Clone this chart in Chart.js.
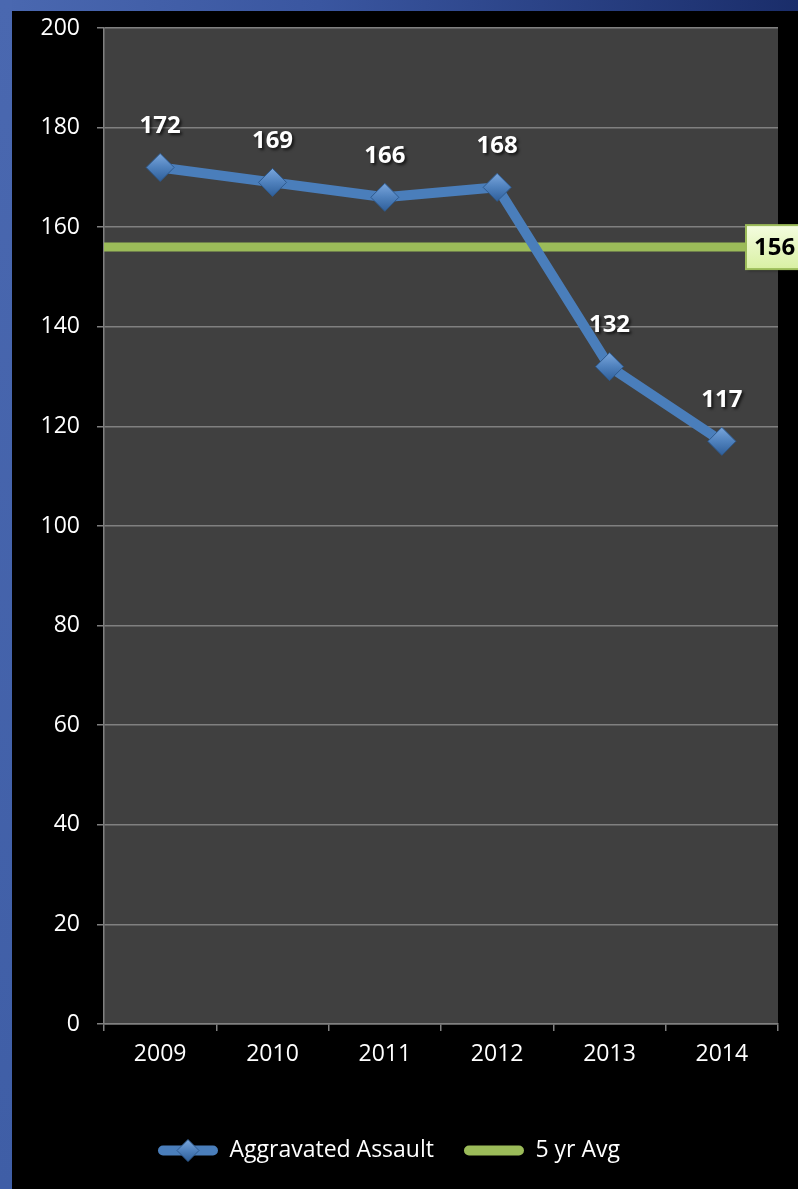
<!DOCTYPE html>
<html lang="en">
<head>
    <meta charset="UTF-8">
    <title>Aggravated Assault</title>
    <script src="https://cdn.jsdelivr.net/npm/chart.js"></script>
    <style>
        html, body { margin: 0; padding: 0; background: #000; }
        #wrap { position: relative; width: 798px; height: 1189px; overflow: hidden; background: #000; }
        #topbar { position: absolute; left: 0; top: 0; width: 798px; height: 11px;
                  background: linear-gradient(to right, #4a68b0, #3a56a0 40%, #1a2d6a); }
        #leftbar { position: absolute; left: 0; top: 0; width: 12px; height: 1189px;
                   background: linear-gradient(to bottom, #4a68b0, #3f5ea6); }
        #spentChart { position: absolute; left: 0; top: 0; }
    </style>
</head>
<body>
    <div id="wrap">
        <div id="topbar"></div>
        <div id="leftbar"></div>
        <canvas id="spentChart" width="798" height="1189"></canvas>
    </div>

    <script>
        const years = ['2009', '2010', '2011', '2012', '2013', '2014'];
        const assaults = [172, 169, 166, 168, 132, 117];
        const avgValue = 156;
        const yTicks = [0, 20, 40, 60, 80, 100, 120, 140, 160, 180, 200];

        const blue = '#4a7ebb';
        const green = '#9bbb59';
        const font = "'Open Sans', sans-serif";

        // grey plot background
        const plotBg = {
            id: 'plotBg',
            beforeDraw(chart) {
                const a = chart.chartArea;
                const ctx = chart.ctx;
                ctx.save();
                ctx.fillStyle = '#404040';
                ctx.fillRect(a.left, a.top, a.right - a.left, a.bottom - a.top);
                ctx.restore();
            }
        };

        function drawDiamond(ctx, cx, cy, r) {
            ctx.save();
            const g = ctx.createLinearGradient(cx, cy - r, cx, cy + r);
            g.addColorStop(0, '#7aa6dc');
            g.addColorStop(0.5, '#4f81bd');
            g.addColorStop(1, '#2f5f9a');
            ctx.beginPath();
            ctx.moveTo(cx, cy - r);
            ctx.lineTo(cx + r, cy);
            ctx.lineTo(cx, cy + r);
            ctx.lineTo(cx - r, cy);
            ctx.closePath();
            ctx.fillStyle = g;
            ctx.fill();
            ctx.strokeStyle = '#2e5a8e';
            ctx.lineWidth = 1;
            ctx.stroke();
            ctx.restore();
        }

        // value labels above points + the avg label box
        const labels = {
            id: 'labels',
            afterDatasetsDraw(chart) {
                const ctx = chart.ctx;
                const meta = chart.getDatasetMeta(0);
                // shaded diamonds on top of the plain markers
                meta.data.forEach(pt => drawDiamond(ctx, pt.x, pt.y, 14));

                ctx.save();
                ctx.font = 'bold 24px ' + font;
                ctx.textAlign = 'center';
                ctx.textBaseline = 'middle';
                ctx.shadowColor = 'rgba(0,0,0,0.7)';
                ctx.shadowOffsetX = 2;
                ctx.shadowOffsetY = 2;
                ctx.shadowBlur = 3;
                ctx.fillStyle = '#fff';
                meta.data.forEach((pt, i) => {
                    ctx.fillText(String(assaults[i]), pt.x, pt.y - 41);
                });
                ctx.restore();

                const y = chart.scales.y.getPixelForValue(avgValue);
                const bx = chart.chartArea.right - 32;
                ctx.save();
                const g = ctx.createLinearGradient(0, y - 22, 0, y + 22);
                g.addColorStop(0, '#f4fde0');
                g.addColorStop(1, '#d9f0a3');
                ctx.shadowColor = 'rgba(0,0,0,0.5)';
                ctx.shadowOffsetX = 2;
                ctx.shadowOffsetY = 2;
                ctx.shadowBlur = 3;
                ctx.fillStyle = g;
                ctx.fillRect(bx, y - 22, 70, 44);
                ctx.shadowColor = 'transparent';
                ctx.strokeStyle = green;
                ctx.lineWidth = 2;
                ctx.strokeRect(bx, y - 22, 70, 44);
                ctx.fillStyle = '#000';
                ctx.font = 'bold 24px ' + font;
                ctx.textAlign = 'left';
                ctx.textBaseline = 'middle';
                ctx.fillText(String(avgValue), bx + 8, y + 1);
                ctx.restore();
            },
            afterDraw(chart) {
                // diamond on the first legend swatch
                const legend = chart.legend;
                if (!legend || !legend.legendHitBoxes.length) return;
                const hb = legend.legendHitBoxes[0];
                drawDiamond(chart.ctx, hb.left + 30, hb.top + hb.height / 2, 11);
            }
        };

        const ctx = document.getElementById('spentChart').getContext('2d');
        const chart = new Chart(ctx, {
            type: 'line',
            data: {
                labels: years,
                datasets: [{
                    label: 'Aggravated Assault',
                    data: assaults,
                    borderColor: blue,
                    backgroundColor: blue,
                    borderWidth: 10,
                    pointStyle: 'rectRot',
                    pointRadius: 10,
                    pointBackgroundColor: '#4f81bd',
                    pointBorderColor: '#2e5a8e',
                    pointBorderWidth: 1,
                    tension: 0,
                    order: 0
                }, {
                    label: '5 yr Avg',
                    data: [{ x: -0.5, y: avgValue }, { x: years.length - 0.5, y: avgValue }],
                    xAxisID: 'x2',
                    borderColor: green,
                    backgroundColor: green,
                    borderWidth: 9,
                    pointRadius: 0,
                    order: 1
                }]
            },
            options: {
                responsive: false,
                animation: false,
                layout: { padding: { left: 0, top: 28, right: 20, bottom: 17 } },
                scales: {
                    x: {
                        type: 'category',
                        offset: true,
                        grid: {
                            offset: true,
                            drawOnChartArea: false,
                            color: '#808080',
                            lineWidth: 1.5,
                            tickLength: 7
                        },
                        border: { color: '#808080', width: 1.5 },
                        ticks: { color: '#fff', font: { family: font, size: 23 }, padding: 10, maxRotation: 0 },
                        afterFit(scale) { scale.height = 85; }
                    },
                    x2: {
                        type: 'linear',
                        display: false,
                        min: -0.5,
                        max: years.length - 0.5
                    },
                    y: {
                        min: 0,
                        max: 200,
                        afterBuildTicks(scale) { scale.ticks = yTicks.map(v => ({ value: v })); },
                        grid: { color: '#808080', lineWidth: 1.5, tickLength: 7 },
                        border: { color: '#808080', width: 1.5 },
                        ticks: { color: '#fff', font: { family: font, size: 23 }, padding: 17 },
                        afterFit(scale) {
                            scale.width = 104;
                            scale.paddingTop = 0;
                            scale.paddingBottom = 0;
                        }
                    }
                },
                plugins: {
                    tooltip: { enabled: false },
                    legend: {
                        position: 'bottom',
                        labels: {
                            color: '#fff',
                            font: { family: font, size: 23 },
                            boxWidth: 60,
                            boxHeight: 10,
                            padding: 30,
                            generateLabels(chart) {
                                return chart.data.datasets.map((ds, i) => ({
                                    text: ds.label,
                                    fillStyle: ds.borderColor,
                                    strokeStyle: ds.borderColor,
                                    lineWidth: 0,
                                    borderRadius: 5,
                                    fontColor: '#fff',
                                    hidden: false,
                                    datasetIndex: i
                                }));
                            }
                        }
                    }
                }
            },
            plugins: [plotBg, labels]
        });
    </script>
</body>
</html>
